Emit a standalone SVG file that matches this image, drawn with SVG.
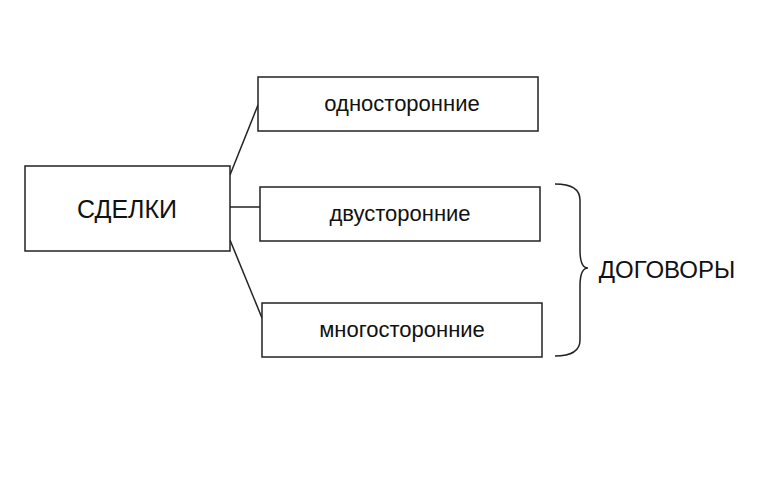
<svg xmlns="http://www.w3.org/2000/svg" width="770" height="481" viewBox="0 0 770 481">
<style>
.b{fill:#fff;stroke:#222;stroke-width:1.5}
.t{font-family:"Liberation Sans",Arial,sans-serif;fill:#111;text-anchor:middle}
.c{fill:none;stroke:#222;stroke-width:1.5}
</style>
<rect width="770" height="481" fill="#fff"/>
<g id="connectors">
<path class="c" d="M230 175 L258 105"/>
<path class="c" d="M230 207 L260 207"/>
<path class="c" d="M230 240 L262 318"/>
<path class="c" d="M555 184 Q580 184 580 200 L580 250 Q580 268 588 268 Q580 268 580 286 L580 340 Q580 356 555 356"/>
</g>
<g id="n1"><rect class="b" x="25" y="166" width="205" height="85"/><text class="t" x="127" y="218" font-size="25">СДЕЛКИ</text></g>
<g id="n2"><rect class="b" x="258" y="77" width="280" height="54"/><text class="t" x="402" y="111" font-size="22">односторонние</text></g>
<g id="n3"><rect class="b" x="260" y="187" width="280" height="54"/><text class="t" x="400" y="221" font-size="22">двусторонние</text></g>
<g id="n4"><rect class="b" x="262" y="303" width="280" height="54"/><text class="t" x="402" y="337" font-size="22">многосторонние</text></g>
<g id="n5"><text class="t" x="667" y="278" font-size="24">ДОГОВОРЫ</text></g>
</svg>
